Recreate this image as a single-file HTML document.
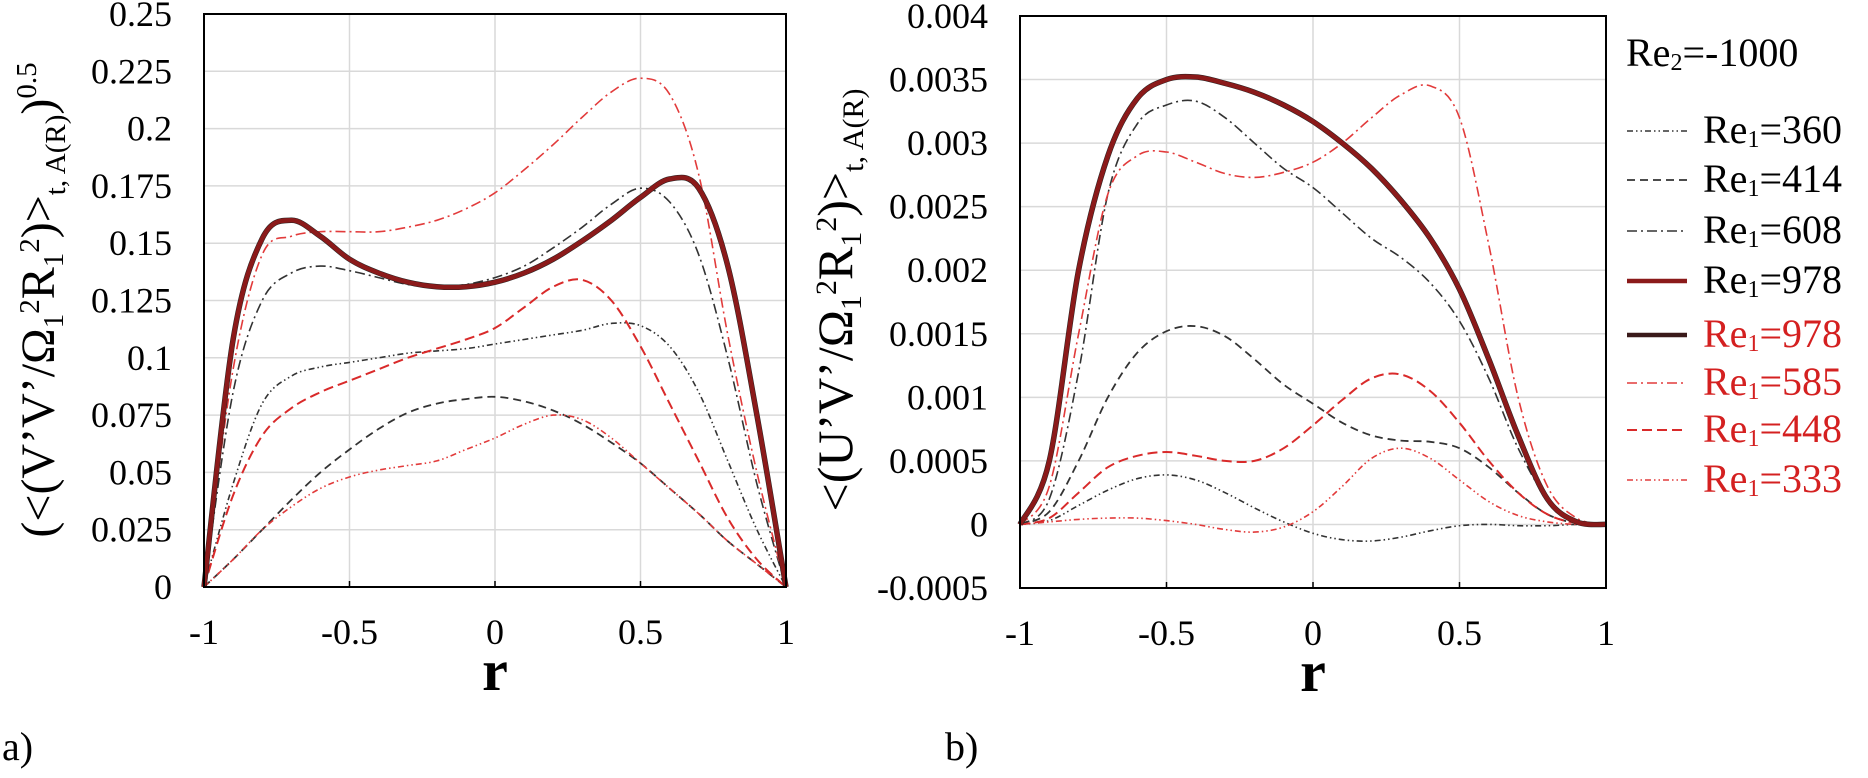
<!DOCTYPE html>
<html><head><meta charset="utf-8"><style>
html,body{margin:0;padding:0;background:#fff;}
svg{display:block;font-family:"Liberation Serif",serif;}
</style></head><body>
<svg id="fig" width="1868" height="778" viewBox="0 0 1868 778" xmlns="http://www.w3.org/2000/svg">
<g id="pa"></g>
<g id="pb"></g>
<text x="2" y="760" font-size="40">a)</text>
<text x="945" y="760" font-size="40">b)</text>
<text transform="translate(54,300) rotate(-90)" text-anchor="middle" font-size="48">(&lt;(V’V’/Ω<tspan font-size="29" dy="9">1</tspan><tspan font-size="29" dy="-24">2</tspan><tspan dy="15">R</tspan><tspan font-size="29" dy="9">1</tspan><tspan font-size="29" dy="-24">2</tspan><tspan dy="15">)&gt;</tspan><tspan font-size="29" dy="11">t, A(R)</tspan><tspan dy="-11">)</tspan><tspan font-size="29" dy="-18">0.5</tspan></text>
<text transform="translate(852,300) rotate(-90)" text-anchor="middle" font-size="50">&lt;(U’V’/Ω<tspan font-size="30" dy="9">1</tspan><tspan font-size="30" dy="-25">2</tspan><tspan dy="16">R</tspan><tspan font-size="30" dy="9">1</tspan><tspan font-size="30" dy="-25">2</tspan><tspan dy="16">)&gt;</tspan><tspan font-size="30" dy="11">t, A(R)</tspan></text>
<g id="legend"></g>
</svg>
<script>
const rVals=[-1,-0.9,-0.8,-0.7,-0.6,-0.5,-0.4,-0.3,-0.2,-0.1,0,0.1,0.2,0.3,0.4,0.5,0.6,0.7,0.8,0.9,1];
const xTicks=[-1,-0.5,0,0.5,1];
const xTickLabels=["-1","-0.5","0","0.5","1"];
const yTicksA=[0,0.025,0.05,0.075,0.1,0.125,0.15,0.175,0.2,0.225,0.25];
const yTickLabelsA=["0","0.025","0.05","0.075","0.1","0.125","0.15","0.175","0.2","0.225","0.25"];
const yTicksB=[-0.0005,0,0.0005,0.001,0.0015,0.002,0.0025,0.003,0.0035,0.004];
const yTickLabelsB=["-0.0005","0","0.0005","0.001","0.0015","0.002","0.0025","0.003","0.0035","0.004"];
const seriesNames=["Re1=360","Re1=414","Re1=608","Re1=978","Re1=978","Re1=585","Re1=448","Re1=333"];
// panel a values
const a360=[0,0.045,0.08,0.092,0.096,0.098,0.1,0.102,0.103,0.104,0.106,0.108,0.11,0.112,0.115,0.114,0.105,0.085,0.055,0.025,0];
const a414=[0,0.012,0.025,0.038,0.05,0.06,0.069,0.076,0.08,0.082,0.083,0.081,0.077,0.071,0.063,0.054,0.043,0.032,0.02,0.01,0];
const a608=[0,0.085,0.125,0.137,0.14,0.138,0.135,0.132,0.131,0.132,0.135,0.14,0.148,0.157,0.167,0.174,0.168,0.145,0.1,0.045,0];
const a978=[0,0.108,0.152,0.16,0.153,0.143,0.137,0.133,0.131,0.131,0.133,0.137,0.143,0.151,0.16,0.17,0.178,0.174,0.14,0.075,0];
const a585=[0,0.095,0.145,0.153,0.155,0.155,0.155,0.157,0.16,0.165,0.172,0.182,0.193,0.205,0.216,0.222,0.215,0.18,0.11,0.05,0];
const a448=[0,0.04,0.066,0.078,0.085,0.09,0.095,0.1,0.104,0.108,0.113,0.122,0.131,0.134,0.125,0.105,0.08,0.055,0.03,0.012,0];
const a333=[0,0.012,0.025,0.035,0.043,0.048,0.051,0.053,0.055,0.06,0.065,0.071,0.075,0.073,0.065,0.054,0.043,0.032,0.02,0.01,0];
// panel b values (x1e-3)
const b360=[0,0.03,0.15,0.27,0.36,0.39,0.35,0.25,0.13,0.02,-0.07,-0.12,-0.13,-0.1,-0.05,-0.01,0,-0.01,-0.01,0,0];
const b414=[0,0.1,0.5,1.0,1.35,1.52,1.56,1.48,1.3,1.1,0.95,0.8,0.7,0.66,0.65,0.6,0.45,0.25,0.08,0.01,0];
const b608=[0,0.2,1.2,2.6,3.15,3.3,3.33,3.2,3.0,2.8,2.65,2.45,2.25,2.1,1.9,1.6,1.15,0.6,0.2,0.03,0];
const b978=[0,0.5,2.0,2.9,3.35,3.5,3.52,3.47,3.4,3.3,3.17,3.0,2.8,2.55,2.25,1.85,1.3,0.7,0.2,0.02,0];
const b585=[0,0.3,1.5,2.6,2.9,2.93,2.85,2.76,2.73,2.77,2.85,3.0,3.2,3.38,3.45,3.2,2.2,1.0,0.3,0.05,0];
const b448=[0,0.05,0.25,0.45,0.54,0.57,0.54,0.5,0.5,0.6,0.78,0.98,1.15,1.18,1.05,0.8,0.5,0.25,0.08,0.01,0];
const b333=[0,0.02,0.04,0.05,0.05,0.03,0,-0.04,-0.06,-0.02,0.1,0.3,0.52,0.6,0.52,0.35,0.18,0.07,0.02,0,0];

const NS="http://www.w3.org/2000/svg";
function mk(tag,attrs,parent){const e=document.createElementNS(NS,tag);for(const k in attrs)e.setAttribute(k,attrs[k]);parent.appendChild(e);return e;}
const styles={
 s360:{stroke:"#333",w:1.6,dash:"6 3 1.5 3 1.5 3"},
 s414:{stroke:"#333",w:1.8,dash:"8 5"},
 s608:{stroke:"#333",w:1.6,dash:"10 4 2 4"},
 s978:{stroke:"#8b1a1a",w:4.5,dash:""},
 s585:{stroke:"#e23b3b",w:1.6,dash:"10 4 2 4"},
 s448:{stroke:"#d92a2a",w:2,dash:"10 5"},
 s333:{stroke:"#e23b3b",w:1.6,dash:"6 3 1.5 3 1.5 3"}
};
function smooth(pts){let d="M"+pts[0][0]+","+pts[0][1];for(let i=0;i<pts.length-1;i++){const p0=pts[i-1]||pts[i],p1=pts[i],p2=pts[i+1],p3=pts[i+2]||p2;const c1=[p1[0]+(p2[0]-p0[0])/6,p1[1]+(p2[1]-p0[1])/6],c2=[p2[0]-(p3[0]-p1[0])/6,p2[1]-(p3[1]-p1[1])/6];d+=" C"+c1[0].toFixed(1)+","+c1[1].toFixed(1)+" "+c2[0].toFixed(1)+","+c2[1].toFixed(1)+" "+p2[0].toFixed(1)+","+p2[1].toFixed(1);}return d;}
function panel(g,L,R,T,B,yMin,yMax,yT,yL,labRight,series,scale,tag){
 const X=v=>L+(v+1)/2*(R-L), Y=v=>B-(v-yMin)/(yMax-yMin)*(B-T);
 for(let i=0;i<yT.length;i++){const y=Y(yT[i]);
  const gl=mk("line",{x1:L,x2:R,y1:y,y2:y,stroke:"#d9d9d9","stroke-width":1.5},g);
  
  
  const t=mk("text",{x:labRight,y:y+12,"text-anchor":"end","font-size":36},g);t.textContent=yL[i];
  
  }
 for(let i=0;i<xTicks.length;i++){const x=X(xTicks[i]);
  const gl=mk("line",{x1:x,x2:x,y1:T,y2:B,stroke:"#d9d9d9","stroke-width":1.5},g);
  
  
  const tk=mk("line",{x1:x,x2:x,y1:B,y2:B-6,stroke:"#000","stroke-width":1.5},g);
  
  
  const t=mk("text",{x:x,y:B+57,"text-anchor":"middle","font-size":36},g);t.textContent=xTickLabels[i];
  
  }
 const rl=mk("text",{x:(L+R)/2,y:B+103,"text-anchor":"middle","font-size":58,"font-weight":"bold"},g);rl.textContent="r";
 
 
 for(const s of series){const st=styles[s.k];const pts=rVals.map((r,i)=>[X(r),Y(s.v[i]*scale)]);
  if(s.k==="s978"){const p0=mk("path",{d:smooth(pts),fill:"none",stroke:"#222","stroke-width":5.5},g);
   
   }
  const p=mk("path",{d:smooth(pts),fill:"none",stroke:st.stroke,"stroke-width":st.w,"stroke-dasharray":st.dash},g);
  
  }
 const fr=mk("rect",{x:L,y:T,width:R-L,height:B-T,fill:"none",stroke:"#000","stroke-width":2},g);
 
 
}
panel(document.getElementById("pa"),204,786,14,587,0,0.25,yTicksA,yTickLabelsA,172,
 [{k:"s360",v:a360},{k:"s414",v:a414},{k:"s333",v:a333},{k:"s448",v:a448},{k:"s608",v:a608},{k:"s585",v:a585},{k:"s978",v:a978}],1,"a");
panel(document.getElementById("pb"),1020,1606,16,588,-0.0005,0.004,yTicksB,yTickLabelsB,988,
 [{k:"s360",v:b360},{k:"s414",v:b414},{k:"s333",v:b333},{k:"s448",v:b448},{k:"s608",v:b608},{k:"s585",v:b585},{k:"s978",v:b978}],0.001,"b");
// legend
const lg=document.getElementById("legend");
const t0=mk("text",{x:1626,y:66,"font-size":40},lg);t0.innerHTML='Re<tspan font-size="24" dy="4">2</tspan><tspan dy="-4">=-1000</tspan>';


const legKeys=["s360","s414","s608","s978","s978","s585","s448","s333"];
const legBase=[143,192,243,293,347,395,442,492];
for(let i=0;i<seriesNames.length;i++){const st=styles[legKeys[i]];const y=legBase[i];const red=i>=4;
 const ln=mk("line",{x1:1627,x2:1687,y1:y-12,y2:y-12,stroke:i===4?"#3a1a1a":st.stroke,"stroke-width":st.w,"stroke-dasharray":st.dash},lg);
 
 
 const t=mk("text",{x:1703,y:y,"font-size":40,fill:red?"#d42020":"#000"},lg);
 const num=seriesNames[i].split("=")[1];
 t.innerHTML='Re<tspan font-size="24" dy="4">1</tspan><tspan dy="-4">='+num+'</tspan>';
 
 }
</script>
</body></html>
